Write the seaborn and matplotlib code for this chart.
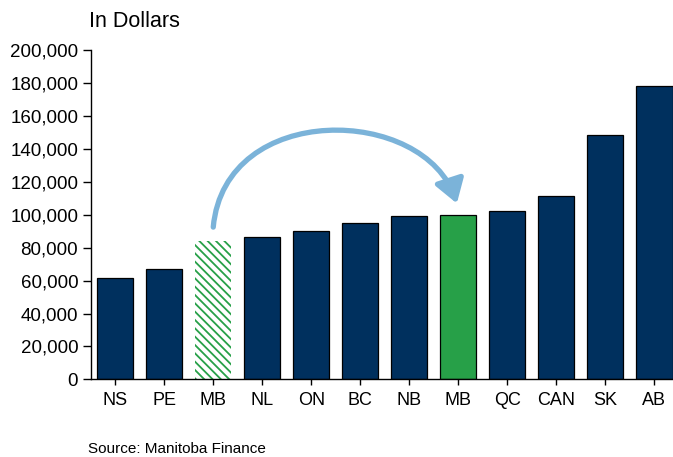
import numpy as np
import pandas as pd
import seaborn as sns
import matplotlib.pyplot as plt
from matplotlib.patches import FancyArrowPatch
from matplotlib.path import Path

labels = ["NS", "PE", "MB", "NL", "ON", "BC", "NB", "MB", "QC", "CAN", "SK", "AB"]
values = [61500, 66800, 84000, 86300, 90300, 95200, 99500, 100100, 102500, 111200, 148200, 178000]
hatched_idx = 2   # MB before
green_idx = 7     # MB after

navy = "#00305E"
green = "#27A048"
arrow_blue = "#7BB3D9"

sns.set_style("ticks")
plt.rcParams["font.family"] = ["Liberation Sans", "DejaVu Sans"]
plt.rcParams["hatch.linewidth"] = 1.3
plt.rcParams["text.color"] = "black"
plt.rcParams["xtick.color"] = "black"
plt.rcParams["ytick.color"] = "black"

df = pd.DataFrame({"pos": np.arange(len(labels)), "value": values})
colors = [navy] * len(labels)
colors[green_idx] = green

fig = plt.figure(figsize=(6.73, 4.57), dpi=100)
ax = fig.add_axes([0.1348, 0.170, 0.8652, 0.720])

sns.barplot(data=df, x="pos", y="value", hue="pos", palette=colors, legend=False,
            width=0.74, edgecolor="black", linewidth=0.9, saturation=1, ax=ax)

bar = ax.patches[hatched_idx]
bar.set_facecolor("white")
bar.set_edgecolor(green)
bar.set_linewidth(0)
bar.set_hatch("\\\\\\\\")

ax.set_xlim(-0.5, 11.38)
ax.set_ylim(0, 200000)
ax.set_yticks(np.arange(0, 200001, 20000))
ax.set_yticklabels([f"{v:,}" for v in range(0, 200001, 20000)], fontsize=13.5)
ax.set_xticks(np.arange(len(labels)))
ax.set_xticklabels(labels, fontsize=13)
ax.set_xlabel("")
ax.set_ylabel("")
ax.tick_params(axis="y", length=6, width=1, pad=3)
ax.tick_params(axis="x", length=4, width=1, pad=5)
for s in ["top", "right"]:
    ax.spines[s].set_visible(False)
for s in ["left", "bottom"]:
    ax.spines[s].set_color("black")
    ax.spines[s].set_linewidth(1)

# curved arrow from the hatched MB bar to the green MB bar
x0, y0 = hatched_idx, values[hatched_idx] + 8500
x3, y3 = green_idx - 0.03, values[green_idx] + 6800
arc = Path([(x0, y0), (x0 + 0.24, 169600), (x3 - 0.65, 166500), (x3, y3)],
           [Path.MOVETO, Path.CURVE4, Path.CURVE4, Path.CURVE4])
ax.add_patch(FancyArrowPatch(path=arc,
                             arrowstyle="-|>,head_length=0.7,head_width=0.45",
                             color=arrow_blue, lw=3.8, mutation_scale=20))

fig.text(0.132, 0.9416, "In Dollars", fontsize=15.5, va="baseline", ha="left")
fig.text(0.131, 0.0088, "Source: Manitoba Finance", fontsize=11, va="baseline", ha="left")

fig.savefig("out.png", dpi=100)
